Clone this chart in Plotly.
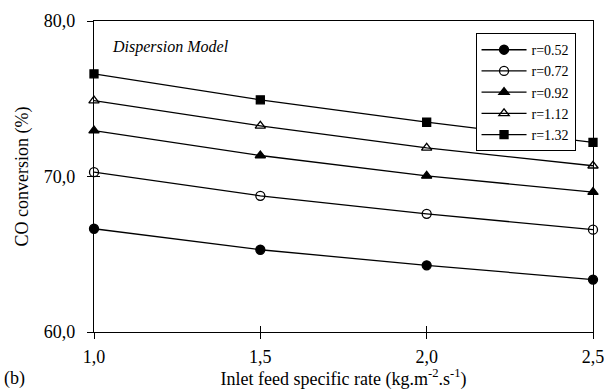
import plotly.graph_objects as go

feed_rate = [1.0, 1.5, 2.0, 2.5]
r_052 = [66.64, 65.29, 64.29, 63.37]
r_072 = [70.28, 68.76, 67.60, 66.58]
r_092 = [72.95, 71.35, 70.04, 69.00]
r_112 = [74.88, 73.26, 71.84, 70.69]
r_132 = [76.60, 74.93, 73.49, 72.19]

series_names = ["r=0.52", "r=0.72", "r=0.92", "r=1.12", "r=1.32"]
series_values = [r_052, r_072, r_092, r_112, r_132]
symbols = ["circle", "circle-open", "triangle-up", "triangle-up-open", "square"]
sizes = [9, 9, 9, 9, 8]

FONT = "Liberation Serif"

fig = go.Figure()
for name, vals, sym, sz in zip(series_names, series_values, symbols, sizes):
    fig.add_trace(go.Scatter(
        x=feed_rate, y=vals, name=name, mode="lines+markers",
        line=dict(color="black", width=1.3),
        marker=dict(symbol=sym, size=sz, color="black",
                    line=dict(color="black", width=1.3)),
        cliponaxis=False,
    ))

# invisible trace to activate the overlay axes (inside tick marks)
fig.add_trace(go.Scatter(x=[feed_rate[0]], y=[r_052[0]], xaxis="x2", yaxis="y2",
                         mode="markers", marker=dict(opacity=0), showlegend=False,
                         hoverinfo="skip"))

axis_common = dict(showgrid=False, zeroline=False, linecolor="black", linewidth=1.3,
                   tickcolor="black", tickwidth=1, mirror=True, automargin=False)

fig.update_layout(
    width=605, height=390,
    margin=dict(l=94, r=12, t=21, b=58),
    paper_bgcolor="white", plot_bgcolor="white",
    separators=",.",
    font=dict(family=FONT, size=18, color="black"),
    xaxis=dict(range=[1.0, 2.5], tickvals=feed_rate, tickformat=".1f",
               ticks="outside", ticklen=6, ticklabelstandoff=2,
               title=dict(text="Inlet feed specific rate (kg.m<sup>-2</sup>.s<sup>-1</sup>)",
                          font=dict(size=18), standoff=4),
               **axis_common),
    yaxis=dict(range=[60, 80], tickvals=[60, 70, 80], tickformat=".1f",
               ticks="outside", ticklen=6, ticklabelstandoff=8,
               title=dict(text="CO conversion (%)", font=dict(size=18), standoff=10),
               **axis_common),
    xaxis2=dict(range=[1.0, 2.5], overlaying="x", tickvals=feed_rate, ticks="inside",
                ticklen=6, showticklabels=False, showline=False, showgrid=False,
                zeroline=False, tickcolor="black", side="bottom", automargin=False),
    yaxis2=dict(range=[60, 80], overlaying="y", tickvals=[60, 70, 80], ticks="inside",
                ticklen=6, showticklabels=False, showline=False, showgrid=False,
                zeroline=False, tickcolor="black", side="left", automargin=False),
    legend=dict(x=0.965, y=0.961, xanchor="right", yanchor="top",
                bordercolor="black", borderwidth=1, bgcolor="white",
                font=dict(family=FONT, size=14), tracegroupgap=0,
                itemwidth=45),
    showlegend=True,
    annotations=[
        dict(text="Dispersion Model", xref="paper", yref="paper",
             x=0.032, y=0.915, xanchor="left", yanchor="middle", showarrow=False,
             font=dict(family=FONT, size=16, style="italic")),
        dict(text="(b)", xref="paper", yref="paper", x=-0.185, y=-0.148,
             xanchor="left", yanchor="middle", showarrow=False,
             font=dict(family=FONT, size=18)),
    ],
)

fig.write_html("out.html", config={"displayModeBar": False},
               post_script="document.body.style.margin='0';document.body.style.overflow='hidden';")
